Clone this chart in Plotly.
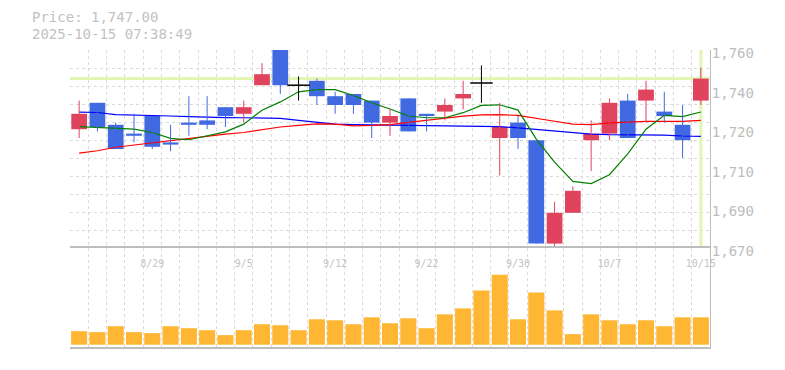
import plotly.graph_objects as go

# ---------------- data ----------------
dates = ["8/25", "8/26", "8/27", "8/28", "8/29", "9/1", "9/2", "9/3", "9/4", "9/5",
         "9/8", "9/9", "9/10", "9/11", "9/12", "9/16", "9/17", "9/18", "9/19", "9/22",
         "9/24", "9/25", "9/26", "9/29", "9/30", "10/1", "10/2", "10/3", "10/6", "10/7",
         "10/8", "10/9", "10/10", "10/14", "10/15"]
label_dates = ["8/29", "9/5", "9/12", "9/22", "9/30", "10/7", "10/15"]

opens = [1724, 1736, 1726, 1722, 1730, 1718, 1727, 1728, 1734, 1731,
         1744, 1760, 1744, 1746, 1739, 1740, 1737, 1727, 1738, 1731,
         1732, 1738, 1745, 1720, 1727, 1719, 1672, 1686, 1719, 1722,
         1737, 1737, 1732, 1726, 1737]
highs = [1737, 1736, 1727, 1731, 1730, 1726, 1739, 1739, 1734, 1737,
         1754, 1760, 1748, 1747, 1741, 1740, 1737, 1733, 1738, 1731,
         1738, 1746, 1753, 1736, 1730, 1719, 1691, 1698, 1728, 1738,
         1740, 1746, 1741, 1735, 1752]
lows = [1720, 1723, 1715, 1718, 1715, 1714, 1721, 1724, 1725, 1727,
        1744, 1740, 1737, 1735, 1731, 1731, 1720, 1721, 1723, 1723,
        1728, 1733, 1736, 1703, 1715, 1672, 1670, 1686, 1705, 1719,
        1720, 1727, 1727, 1711, 1735]
closes = [1731, 1725, 1715, 1721, 1716, 1717, 1726, 1726, 1730, 1734,
          1749, 1744, 1744, 1739, 1735, 1735, 1727, 1730, 1723, 1730,
          1735, 1740, 1745, 1725, 1720, 1672, 1686, 1696, 1722, 1736,
          1720, 1742, 1730, 1719, 1747]

ma_short = [1725.2, 1724.9, 1724.3, 1724.0, 1722.5, 1719.8, 1719.2, 1721.0, 1722.8, 1726.3,
            1732.6, 1736.4, 1741.0, 1742.0, 1742.0, 1739.3, 1736.0, 1733.2, 1730.0, 1729.2,
            1729.2, 1731.5, 1734.8, 1735.1, 1732.7, 1719.5, 1709.0, 1700.3, 1699.3, 1703.3,
            1712.8, 1724.0, 1730.3, 1729.7, 1731.8]
ma_mid = [1713.1, 1714.2, 1715.8, 1716.8, 1717.7, 1718.8, 1719.8, 1721.0, 1721.8, 1722.5,
          1723.7, 1725.0, 1725.7, 1726.4, 1726.3, 1725.5, 1725.7, 1726.1, 1727.1, 1728.0,
          1729.1, 1729.9, 1730.5, 1730.6, 1730.3, 1729.1, 1727.6, 1726.3, 1726.1, 1726.9,
          1727.4, 1727.6, 1727.6, 1727.6, 1728.0]
ma_long = [1731.8, 1731.6, 1730.6, 1730.5, 1730.2, 1730.0, 1729.7, 1729.4, 1729.3, 1729.2,
           1729.1, 1728.9, 1728.0, 1727.0, 1726.3, 1726.1, 1726.0, 1725.8, 1725.8, 1725.7,
           1725.7, 1725.4, 1725.2, 1725.2, 1724.6, 1723.9, 1723.1, 1722.2, 1721.8, 1721.5,
           1721.5, 1721.5, 1721.3, 1720.9, 1720.7]

volumes = [13700, 12700, 18700, 12700, 11700, 18700, 16700, 14700, 9700, 14700,
           20700, 19700, 14700, 25700, 24700, 20700, 27700, 21700, 26700, 16700,
           30700, 36700, 54700, 70700, 25700, 52700, 34700, 10700, 30700, 24700,
           20700, 24700, 18700, 27700, 27700]

price_ticks = [1670, 1688, 1706, 1724, 1742, 1760]
price_tick_text = ["1,670", "1,690", "1,710", "1,720", "1,740", "1,760"]
last_price = 1747.00
timestamp = "2025-10-15 07:38:49"

# ---------------- styling ----------------
UP = "#E0435E"
DOWN = "#4169E1"
DOJI = "#000000"
VOL = "#FFB733"
HILITE = "#E3F5B3"
GRID = "#DADADA"
AXIS = "#BDBDBD"
TXT = "#BDBDBD"
MONO = "DejaVu Sans Mono"

idx = list(range(len(dates)))
n = len(idx)
ymin, ymax = min(lows), max(highs)

fig = go.Figure()

# reference lines (current price / latest bar)
fig.add_shape(type="line", xref="x", yref="y", x0=-0.5, x1=n - 0.5, y0=last_price, y1=last_price,
              line=dict(color=HILITE, width=3), layer="between")
fig.add_shape(type="line", xref="x", yref="y", x0=idx[-1], x1=idx[-1], y0=ymin, y1=ymax,
              line=dict(color=HILITE, width=3), layer="between")

# moving averages
for vals, col in ((ma_long, "#0000FF"), (ma_mid, "#FF0000"), (ma_short, "#008000")):
    fig.add_trace(go.Scatter(x=idx, y=vals, mode="lines", line=dict(color=col, width=1.2),
                             xaxis="x", yaxis="y", hoverinfo="skip", showlegend=False))

# candle colours
cols = []
for o, c in zip(opens, closes):
    cols.append(UP if c > o else (DOWN if c < o else DOJI))

# wicks
for col in (UP, DOWN, DOJI):
    wx, wy = [], []
    for i in idx:
        if cols[i] == col:
            wx += [i, i, None]
            wy += [lows[i], highs[i], None]
    fig.add_trace(go.Scatter(x=wx, y=wy, mode="lines", line=dict(color=col, width=1),
                             xaxis="x", yaxis="y", hoverinfo="skip", showlegend=False))

# bodies
fig.add_trace(go.Bar(x=idx, y=[abs(c - o) for o, c in zip(opens, closes)],
                     base=[min(o, c) for o, c in zip(opens, closes)],
                     width=0.86, marker=dict(color=cols, line=dict(width=0)),
                     xaxis="x", yaxis="y", showlegend=False, hoverinfo="skip"))

# doji bars (open == close)
dx = [i for i in idx if opens[i] == closes[i]]
fig.add_trace(go.Scatter(x=dx, y=[closes[i] for i in dx], mode="markers",
                         marker=dict(symbol="line-ew", size=16, line=dict(color=DOJI, width=1.5)),
                         xaxis="x", yaxis="y", showlegend=False, hoverinfo="skip"))

# volume
fig.add_trace(go.Bar(x=idx, y=volumes, width=0.88, marker=dict(color=VOL, line=dict(width=0)),
                     xaxis="x2", yaxis="y2", showlegend=False, hoverinfo="skip"))

minor_x = dict(tickmode="array", tickvals=[i - 0.5 for i in idx] + [n - 0.5], showgrid=True,
               gridcolor=GRID, griddash="3px,3px", gridwidth=1, ticks="")

label_pos = [dates.index(d) for d in label_dates]

fig.update_layout(
    width=777, height=362,
    margin=dict(l=62, r=75, t=42, b=20),
    paper_bgcolor="white", plot_bgcolor="white",
    barmode="overlay", showlegend=False,
    xaxis=dict(domain=[0, 1], anchor="y", range=[-0.5, n - 0.5], showgrid=False,
               tickmode="array", tickvals=label_pos, showticklabels=False, ticks="",
               minor=minor_x, showline=False, zeroline=False, fixedrange=True),
    yaxis=dict(domain=[1 / 3, 1], anchor="x", side="right", range=[ymin, ymax],
               tickmode="array", tickvals=price_ticks, ticktext=price_tick_text,
               showgrid=False, ticks="", ticklabelstandoff=-2, ticklabelshift=3,
               tickfont=dict(family=MONO, size=14, color=TXT),
               minor=dict(tickmode="array",
                          tickvals=[ymin + (ymax - ymin) * k / 11 for k in range(12)],
                          showgrid=True, gridcolor=GRID, griddash="3px,3px", gridwidth=1, ticks=""),
               showline=True, linecolor=AXIS, linewidth=1, zeroline=False),
    xaxis2=dict(domain=[0, 1], anchor="y2", matches="x", side="top", showgrid=False,
                tickmode="array", tickvals=label_pos, ticktext=label_dates,
                ticklabelposition="inside", ticklabeloverflow="allow", ticks="",
                ticklabelstandoff=11,
                tickfont=dict(family=MONO, size=10, color="#C4C4C4"),
                minor=minor_x, showline=True, mirror=True, linecolor=AXIS, linewidth=1.5,
                zeroline=False),
    yaxis2=dict(domain=[0, 1 / 3], anchor="x2", side="right", range=[-2300, 97700],
                showgrid=False, showticklabels=False, ticks="", zeroline=False,
                showline=True, linecolor=AXIS, linewidth=1),
)

fig.add_annotation(text="Price: {:,.2f}".format(last_price), xref="paper", yref="paper",
                   x=-40 / 640, y=1 + 33 / 300, xanchor="left", yanchor="middle", showarrow=False,
                   font=dict(family=MONO, size=14, color="#C2C2C2"))
fig.add_annotation(text=timestamp, xref="paper", yref="paper",
                   x=-40 / 640, y=1 + 16 / 300, xanchor="left", yanchor="middle", showarrow=False,
                   font=dict(family=MONO, size=14, color="#C2C2C2"))

fig.write_html("out.html")
